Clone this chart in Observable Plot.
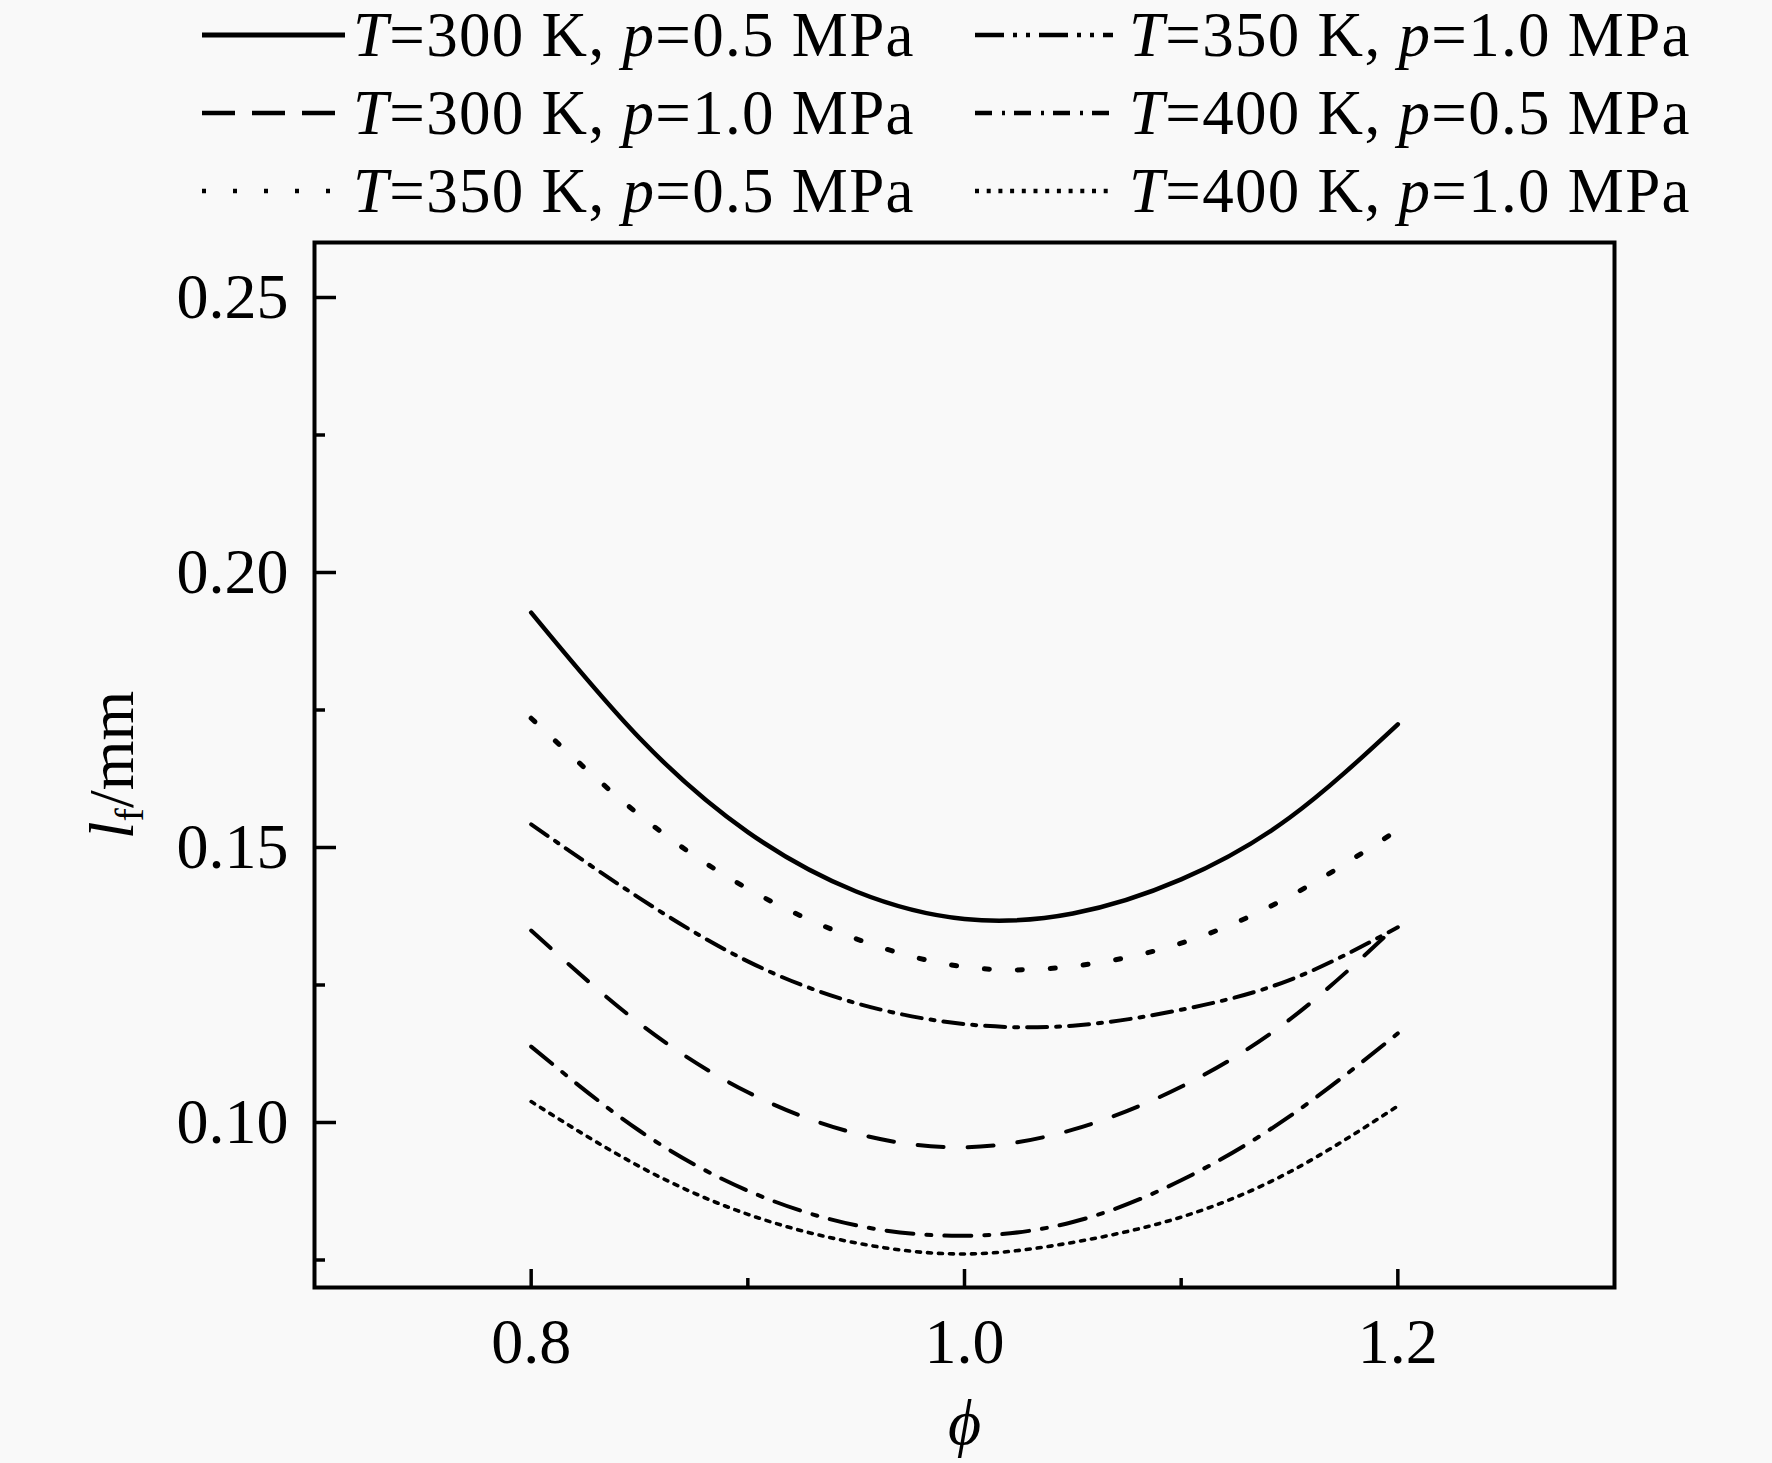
<!DOCTYPE html>
<html><head><meta charset="utf-8">
<script src="https://cdn.jsdelivr.net/npm/d3@7"></script>
<script src="https://cdn.jsdelivr.net/npm/@observablehq/plot@0.6"></script>
<style>
html,body{margin:0;padding:0;background:#f9f9f9;}
#legend,#chart svg{display:block;}
</style></head><body>
<svg id="legend" width="1772" height="230"></svg>
<div id="chart"></div>
<script>
// ---- data ----
const phi = [0.80, 0.85, 0.90, 0.95, 1.00, 1.05, 1.10, 1.15, 1.20];
const lfT300p05 = [0.1927, 0.1699, 0.1528, 0.1420, 0.1370, 0.1380, 0.1442, 0.1554, 0.1724];
const lfT300p10 = [0.1349, 0.1180, 0.1055, 0.0980, 0.0955, 0.0987, 0.1065, 0.1187, 0.1360];
const lfT350p05 = [0.1735, 0.1559, 0.1425, 0.1334, 0.1283, 0.1284, 0.1326, 0.1411, 0.1532];
const lfT350p10 = [0.1542, 0.1408, 0.1293, 0.1217, 0.1179, 0.1176, 0.1205, 0.1259, 0.1355];
const lfT400p05 = [0.1138, 0.0985, 0.0876, 0.0813, 0.0794, 0.0819, 0.0895, 0.1011, 0.1162];
const lfT400p10 = [0.1038, 0.0920, 0.0833, 0.0781, 0.0761, 0.0782, 0.0828, 0.0910, 0.1030];
const seriesT = ["300", "300", "350", "350", "400", "400"];
const seriesP = ["0.5", "1.0", "0.5", "1.0", "0.5", "1.0"];
const xDomain = [0.7, 1.3];
const yDomain = [0.07, 0.26];
const xMajor = [0.8, 1.0, 1.2];
const xMinor = [0.9, 1.1];
const yMajor = [0.10, 0.15, 0.20, 0.25];
const yMinor = [0.075, 0.125, 0.175, 0.225];
const xLabel = "\u03d5";
const yLabel = "lf/mm";

// ---- styles ----
const seriesValues = [lfT300p05, lfT300p10, lfT350p05, lfT350p10, lfT400p05, lfT400p10];
const plotDash = [null, "26,24", "5,28", "20,9,4,9", "27,13,5,13", "4,7"];
const plotWidth = [4.5, 4, 5, 4, 4, 3.6];
const legendDash = [null, "33,17", "4,27", "29,9,4,9,4,9", "17,10,3,9", "4,7.7"];
const FONT = "'Liberation Serif', 'Times New Roman', serif";

// ---- legend ----
const leg = d3.select("#legend");
const legCols = [{x0: 202, x1: 345, tx: 353}, {x0: 975, x1: 1113, tx: 1129}];
const legBase = [56, 134, 212];
seriesValues.forEach((_, i) => {
  const c = legCols[i < 3 ? 0 : 1];
  const b = legBase[i % 3];
  leg.append("line")
    .attr("x1", c.x0).attr("x2", c.x1).attr("y1", b - 21).attr("y2", b - 21)
    .attr("stroke", "#000").attr("stroke-width", i === 0 ? 5 : 4.5)
    .attr("stroke-dasharray", legendDash[i]);
  leg.append("text")
    .attr("x", c.tx).attr("y", b)
    .attr("font-family", FONT).attr("font-size", 63).attr("letter-spacing", 1.3)
    .attr("fill", "#000")
    .html(`<tspan font-style="italic">T</tspan>=${seriesT[i]} K, <tspan font-style="italic">p</tspan>=${seriesP[i]} MPa`);
});

// ---- chart ----
const lines = seriesValues.map((vals, i) =>
  Plot.line(phi.map((x, j) => ({phi: x, lf: vals[j]})), {
    x: "phi", y: "lf", curve: "natural",
    stroke: "#000", strokeWidth: plotWidth[i],
    strokeDasharray: plotDash[i]
  })
);

const plot = Plot.plot({
  width: 1772, height: 1233,
  marginTop: 12, marginBottom: 176, marginLeft: 314, marginRight: 158,
  style: {background: "#f9f9f9", fontFamily: FONT, fontSize: "64px", color: "#000"},
  x: {domain: xDomain},
  y: {domain: yDomain},
  marks: [
    // tick labels
    Plot.axisX(xMajor, {tickSize: 0, tickPadding: 30, tickFormat: d3.format(".1f"), label: null, fontSize: 64}),
    Plot.axisY(yMajor, {tickSize: 0, tickPadding: 26, tickFormat: d3.format(".2f"), label: null, fontSize: 64}),
    // inward ticks (axis ticks shifted inside the frame)
    Plot.axisX(xMajor, {tickSize: 18, dy: -18, tickFormat: () => "", label: null, strokeWidth: 3.5}),
    Plot.axisX(xMinor, {tickSize: 9, dy: -9, tickFormat: () => "", label: null, strokeWidth: 3.5}),
    Plot.axisY(yMajor, {tickSize: 22, dx: 22, tickFormat: () => "", label: null, strokeWidth: 3.5}),
    Plot.axisY(yMinor, {tickSize: 11, dx: 11, tickFormat: () => "", label: null, strokeWidth: 3.5}),
    ...lines,
    Plot.frame({stroke: "#000", strokeWidth: 4}),
    Plot.text([xLabel], {frameAnchor: "bottom", lineAnchor: "bottom", dy: 156, text: d => d,
      fontStyle: "italic", fontSize: 64, fill: "#000"}),
    Plot.text([yLabel], {frameAnchor: "left", textAnchor: "middle", lineAnchor: "bottom", dx: -182, rotate: -90, text: d => d,
      fontSize: 64, fill: "#000"})
  ]
});
document.getElementById("chart").appendChild(plot);

// format the y label with italic l and subscript f
d3.select(plot).selectAll("text").filter(function () { return this.textContent === yLabel; })
  .html('<tspan font-style="italic">l</tspan><tspan font-size="40" dy="10">f</tspan><tspan dy="-10">/mm</tspan>');
</script></body></html>
